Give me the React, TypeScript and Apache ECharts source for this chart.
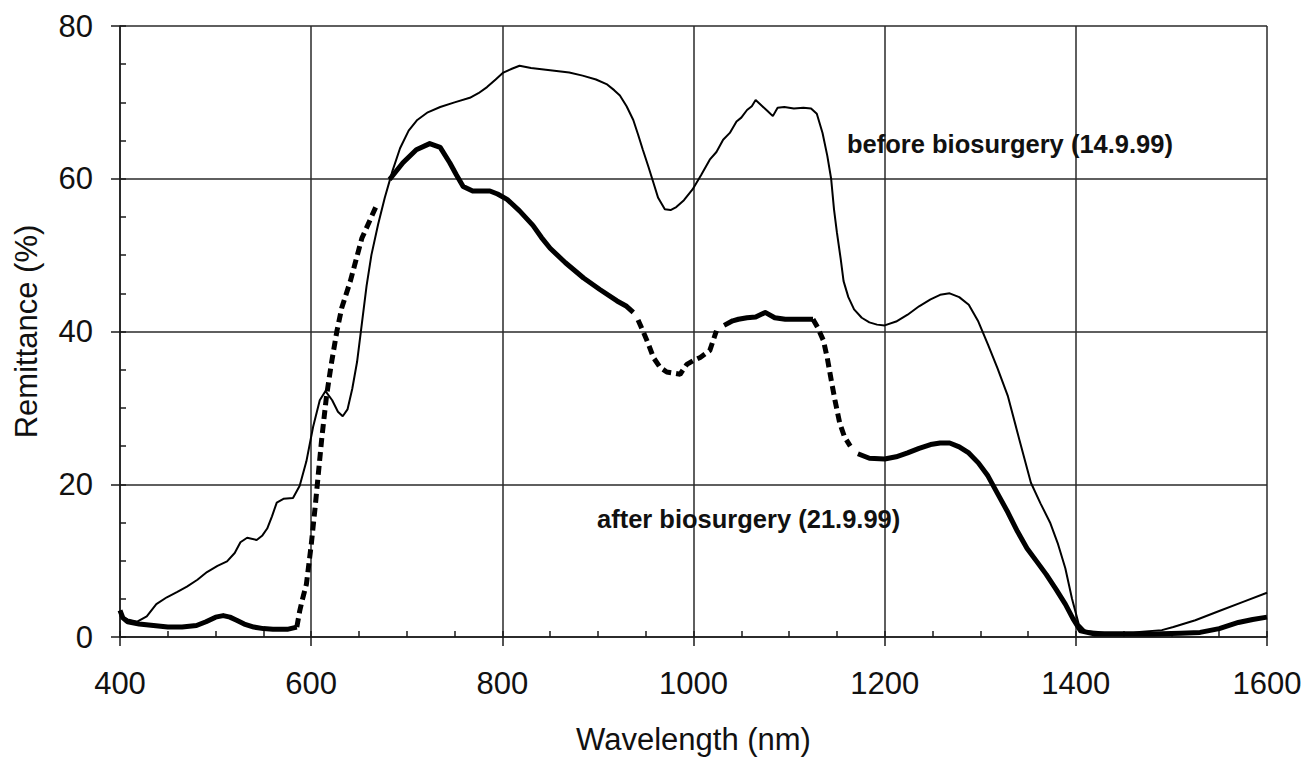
import React, { useEffect, useRef } from "react";
import * as echarts from "echarts";

const xTicks = [400, 600, 800, 1000, 1200, 1400, 1600];
const yTicks = [0, 20, 40, 60, 80];

const beforeNm = [400, 408, 418, 428, 438, 449, 460, 470, 481, 491, 502, 512, 520, 526, 533, 543, 549, 554, 559, 564, 571, 581, 588, 595, 602, 609, 615, 622, 628, 633, 638, 643, 648, 653, 658, 663, 670, 677, 685, 693, 702, 711, 722, 735, 750, 766, 775, 784, 793, 801, 810, 818, 830, 850, 870, 884, 898, 909, 917, 923, 930, 937, 942, 947, 953, 958, 963, 970, 976, 982, 990, 999, 1008, 1017, 1024, 1031, 1038, 1045, 1050, 1056, 1061, 1065, 1072, 1078, 1083, 1088, 1095, 1105, 1115, 1123, 1129, 1135, 1140, 1144, 1147, 1150, 1154, 1157, 1162, 1168, 1176, 1184, 1192, 1200, 1212, 1224, 1236, 1248, 1258, 1268, 1278, 1288, 1298, 1308, 1318, 1329, 1341, 1353, 1363, 1373, 1381, 1389, 1396, 1403, 1410, 1430, 1460, 1490, 1502, 1525, 1550, 1575, 1600];
const beforeVal = [2.8, 2.3, 2.0, 2.7, 4.3, 5.2, 5.9, 6.6, 7.5, 8.5, 9.3, 9.9, 11.0, 12.4, 13.0, 12.7, 13.3, 14.2, 15.8, 17.6, 18.1, 18.2, 19.8, 23.0, 27.5, 31.0, 32.2, 31.0, 29.5, 28.9, 29.8, 32.5, 36.0, 41.0, 46.0, 50.0, 54.0, 57.5, 61.0, 64.0, 66.3, 67.7, 68.7, 69.4, 70.0, 70.6, 71.2, 72.0, 73.0, 73.9, 74.4, 74.8, 74.5, 74.2, 73.9, 73.5, 73.0, 72.4, 71.6, 70.9, 69.5, 67.7, 65.8, 63.8, 61.5, 59.5, 57.5, 56.0, 55.9, 56.3, 57.2, 58.6, 60.5, 62.5, 63.5, 65.1, 66.0, 67.5, 68.0, 69.0, 69.5, 70.3, 69.5, 68.8, 68.2, 69.3, 69.4, 69.2, 69.3, 69.2, 68.5, 66.0, 63.0, 60.0, 56.0, 53.0, 49.5, 46.6, 44.5, 42.9, 41.8, 41.2, 40.9, 40.8, 41.3, 42.2, 43.3, 44.2, 44.8, 45.0, 44.5, 43.5, 41.3, 38.3, 35.2, 31.5, 25.8, 20.2, 17.5, 15.0, 12.3, 9.0, 5.0, 1.7, 0.8, 0.6, 0.6, 0.9, 1.3, 2.2, 3.4, 4.6, 5.8];

const afterNm = [400, 403, 408, 420, 435, 450, 465, 480, 490, 500, 508, 515, 522, 530, 540, 550, 560, 575, 585, 588, 591, 595, 600, 604, 607, 611, 616, 621, 627, 632, 641, 653, 668, 682, 696, 710, 724, 735, 745, 752, 759, 769, 787, 795, 805, 818, 832, 841, 850, 866, 885, 902, 920, 930, 937, 942, 947, 953, 958, 965, 972, 986, 993, 1000, 1007, 1017, 1024, 1032, 1041, 1047, 1056, 1065, 1075, 1085, 1096, 1110, 1125, 1130, 1136, 1140, 1144, 1148, 1153, 1158, 1164, 1172, 1184, 1200, 1212, 1224, 1236, 1248, 1258, 1268, 1278, 1288, 1298, 1308, 1318, 1329, 1339, 1349, 1359, 1369, 1379, 1389, 1397, 1405, 1420, 1450, 1480, 1510, 1530, 1550, 1570, 1585, 1600];
const afterVal = [3.5, 2.5, 2.0, 1.7, 1.5, 1.3, 1.3, 1.5, 2.0, 2.6, 2.8, 2.6, 2.2, 1.7, 1.3, 1.1, 1.0, 1.0, 1.3, 3.4, 5.0, 6.9, 12.0, 16.8, 20.7, 25.9, 31.5, 35.7, 40.1, 43.1, 46.6, 52.2, 56.4, 59.9, 62.1, 63.8, 64.6, 64.1, 62.1, 60.5, 59.0, 58.4, 58.4, 58.0, 57.3, 55.8, 53.9, 52.3, 50.9, 49.0, 47.0, 45.5, 44.0, 43.3, 42.5, 41.5, 40.1, 38.3, 36.6, 35.3, 34.7, 34.4, 35.7, 36.2, 36.6, 37.5, 40.1, 40.8, 41.4, 41.6, 41.8, 41.9, 42.5, 41.8, 41.6, 41.6, 41.6, 40.5, 38.8, 36.5, 33.7, 31.0, 28.0, 26.2, 25.0, 24.0, 23.4, 23.3, 23.6, 24.1, 24.7, 25.2, 25.4, 25.4, 24.9, 24.1, 22.8, 21.1, 18.8, 16.3, 13.8, 11.6, 9.9, 8.2, 6.3, 4.3, 2.4, 0.8, 0.4, 0.4, 0.4, 0.5, 0.6, 1.1, 1.9, 2.3, 2.6];

// wavelength ranges where the sparse "after" samples read as a broken line
const afterBrokenRanges = [[585, 680], [940, 1030], [1125, 1165]];

const annotations = ["before biosurgery (14.9.99)", "after biosurgery (21.9.99)"];

const FONT = "'Liberation Sans', Arial, Helvetica, sans-serif";

export default function App() {
  const ref = useRef<HTMLDivElement>(null);

  useEffect(() => {
    if (!ref.current) return;
    const chart = echarts.init(ref.current, null, { renderer: "svg" });

    const inBroken = (x: number) => afterBrokenRanges.some(([a, b]) => x >= a && x <= b);
    const strictlyInBroken = (x: number) => afterBrokenRanges.some(([a, b]) => x > a && x < b);

    const beforeData = beforeNm.map((x, i) => [x, beforeVal[i]]);
    const afterSolid = afterNm.map((x, i) => [x, strictlyInBroken(x) ? "-" : afterVal[i]]);
    const afterBroken = afterNm.map((x, i) => [x, inBroken(x) ? afterVal[i] : "-"]);

    const lineColor = "#1a1a1a";
    const plain = (v: number) => String(v);

    chart.setOption({
      animation: false,
      backgroundColor: "#ffffff",
      grid: { left: 120, width: 1147, top: 26, height: 617, containLabel: false },
      xAxis: [
        {
          type: "value",
          min: xTicks[0],
          max: xTicks[xTicks.length - 1],
          interval: xTicks[1] - xTicks[0],
          position: "bottom",
          axisLine: { show: true, onZero: false, lineStyle: { color: lineColor, width: 1.5 } },
          axisTick: { show: true, inside: false, length: 9, lineStyle: { color: lineColor, width: 1.5 } },
          splitLine: { show: true, lineStyle: { color: "#2a2a2a", width: 1.5 } },
          axisLabel: { fontSize: 31, color: "#111", margin: 31, fontFamily: FONT, formatter: plain },
          name: "Wavelength (nm)",
          nameLocation: "middle",
          nameGap: 87,
          nameTextStyle: { fontSize: 31, color: "#111", fontFamily: FONT },
        },
        {
          type: "value",
          min: xTicks[0],
          max: xTicks[xTicks.length - 1],
          interval: 50,
          position: "bottom",
          axisLine: { show: false, onZero: false },
          axisTick: { show: true, inside: true, length: 6, lineStyle: { color: lineColor, width: 1.5 } },
          splitLine: { show: false },
          axisLabel: { show: false },
        },
      ],
      yAxis: [
        {
          type: "value",
          min: yTicks[0],
          max: yTicks[yTicks.length - 1],
          interval: yTicks[1] - yTicks[0],
          position: "left",
          axisLine: { show: true, onZero: false, lineStyle: { color: lineColor, width: 1.5 } },
          axisTick: { show: true, inside: false, length: 9, lineStyle: { color: lineColor, width: 1.5 } },
          splitLine: { show: true, lineStyle: { color: "#2a2a2a", width: 1.5 } },
          axisLabel: { fontSize: 31, color: "#111", margin: 27, fontFamily: FONT, formatter: plain },
          name: "Remittance (%)",
          nameLocation: "middle",
          nameGap: 78,
          nameTextStyle: { fontSize: 31, color: "#111", fontFamily: FONT },
        },
        {
          type: "value",
          min: yTicks[0],
          max: yTicks[yTicks.length - 1],
          interval: 5,
          position: "left",
          axisLine: { show: false, onZero: false },
          axisTick: { show: true, inside: true, length: 6, lineStyle: { color: lineColor, width: 1.5 } },
          splitLine: { show: false },
          axisLabel: { show: false },
        },
      ],
      series: [
        {
          name: "before",
          type: "line",
          xAxisIndex: 0,
          yAxisIndex: 0,
          data: beforeData,
          showSymbol: false,
          symbol: "none",
          lineStyle: { color: "#000", width: 2 },
          z: 3,
        },
        {
          name: "after",
          type: "line",
          xAxisIndex: 0,
          yAxisIndex: 0,
          data: afterSolid,
          showSymbol: false,
          symbol: "none",
          connectNulls: false,
          lineStyle: { color: "#000", width: 5, join: "round" },
          z: 4,
        },
        {
          name: "after (sparse)",
          type: "line",
          xAxisIndex: 0,
          yAxisIndex: 0,
          data: afterBroken,
          showSymbol: false,
          symbol: "none",
          connectNulls: false,
          lineStyle: { color: "#000", width: 5, type: [9, 5] },
          z: 4,
        },
      ],
      graphic: [
        {
          type: "text",
          left: 847,
          top: 131,
          z: 10,
          style: { text: annotations[0], fontSize: 25.5, fontWeight: "bold", fill: "#111", fontFamily: FONT },
        },
        {
          type: "text",
          left: 597,
          top: 506,
          z: 10,
          style: { text: annotations[1], fontSize: 25.5, fontWeight: "bold", fill: "#111", fontFamily: FONT },
        },
      ],
    });

    return () => chart.dispose();
  }, []);

  return (
    <div
      ref={ref}
      style={{ position: "fixed", left: 0, top: 0, width: 1310, height: 760, background: "#fff" }}
    />
  );
}
